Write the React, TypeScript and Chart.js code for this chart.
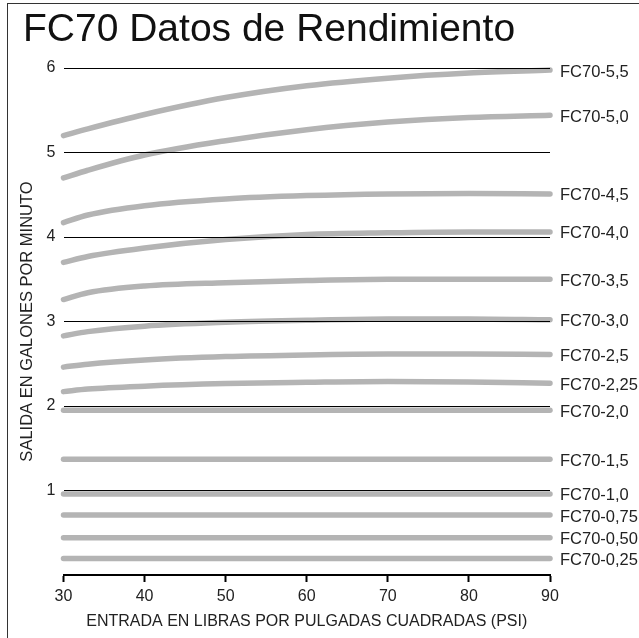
import React, { useEffect, useRef } from 'react';
import { Chart, registerables } from 'chart.js';

Chart.register(...registerables);

const TITLE = 'FC70 Datos de Rendimiento';
const X_TITLE = 'ENTRADA EN LIBRAS POR PULGADAS CUADRADAS (PSI)';
const Y_TITLE = 'SALIDA EN GALONES POR MINUTO';

const psiCurve = [30, 33, 40, 50, 60, 70, 80, 90];
const psiFlat = [30, 90];

const fc55 = [5.2, 5.28, 5.45, 5.65, 5.79, 5.88, 5.94, 5.975];
const fc50 = [4.7, 4.79, 4.97, 5.14, 5.27, 5.36, 5.415, 5.44];
const fc45 = [4.17, 4.26, 4.37, 4.45, 4.49, 4.51, 4.515, 4.51];
const fc40 = [3.7, 3.77, 3.87, 3.97, 4.03, 4.05, 4.06, 4.06];
const fc35 = [3.26, 3.34, 3.42, 3.46, 3.485, 3.5, 3.5, 3.5];
const fc30 = [2.83, 2.88, 2.945, 2.99, 3.015, 3.03, 3.03, 3.02];
const fc25 = [2.46, 2.495, 2.545, 2.585, 2.605, 2.615, 2.615, 2.61];
const fc225 = [2.17, 2.2, 2.235, 2.265, 2.28, 2.29, 2.285, 2.27];
const fc20 = [1.95, 1.95];
const fc15 = [1.37, 1.37];
const fc10 = [0.96, 0.96];
const fc075 = [0.71, 0.71];
const fc050 = [0.44, 0.44];
const fc025 = [0.195, 0.195];

const seriesNames = [
  'FC70-5,5', 'FC70-5,0', 'FC70-4,5', 'FC70-4,0', 'FC70-3,5', 'FC70-3,0', 'FC70-2,5',
  'FC70-2,25', 'FC70-2,0', 'FC70-1,5', 'FC70-1,0', 'FC70-0,75', 'FC70-0,50', 'FC70-0,25',
];
const seriesValues = [fc55, fc50, fc45, fc40, fc35, fc30, fc25, fc225, fc20, fc15, fc10, fc075, fc050, fc025];

const xTicks = [30, 40, 50, 60, 70, 80, 90];
const yTicks = [1, 2, 3, 4, 5, 6];

const FONT = '"Liberation Sans", Arial, Helvetica, sans-serif';

export default function App() {
  const ref = useRef<HTMLCanvasElement | null>(null);

  useEffect(() => {
    if (!ref.current) return;

    const datasets = seriesValues.map((vals, i) => {
      const xs = vals.length === psiFlat.length ? psiFlat : psiCurve;
      return {
        label: seriesNames[i],
        data: vals.map((v, j) => ({ x: xs[j], y: v })),
        borderColor: '#b4b4b4',
        backgroundColor: '#b4b4b4',
        borderWidth: 5.5,
        borderCapStyle: 'round' as const,
        borderJoinStyle: 'round' as const,
        pointRadius: 0,
        pointHoverRadius: 0,
        cubicInterpolationMode: 'monotone' as const,
        clip: false as const,
        fill: false,
      };
    });

    const decor = {
      id: 'decor',
      afterDatasetsDraw(chart: any) {
        const ctx = chart.ctx;
        ctx.save();
        ctx.font = `16.5px ${FONT}`;
        ctx.fillStyle = '#222';
        ctx.textAlign = 'left';
        ctx.textBaseline = 'middle';
        chart.data.datasets.forEach((ds: any, i: number) => {
          const meta = chart.getDatasetMeta(i);
          const last = meta.data[meta.data.length - 1];
          ctx.fillText(ds.label, last.x + 10, last.y + 2);
        });
        ctx.restore();
      },
      afterDraw(chart: any) {
        const ctx = chart.ctx;
        ctx.save();
        ctx.font = `39px ${FONT}`;
        ctx.fillStyle = '#111';
        ctx.textAlign = 'left';
        ctx.textBaseline = 'alphabetic';
        ctx.fillText(TITLE, 23, 41);
        ctx.strokeStyle = '#333';
        ctx.lineWidth = 1;
        ctx.strokeRect(7.5, 3.5, 640, 640);
        ctx.restore();
      },
    };

    const chart = new Chart(ref.current, {
      type: 'line',
      data: { datasets },
      options: {
        animation: false,
        responsive: false,
        events: [],
        layout: { padding: { top: 68, right: 89, left: 0, bottom: 0 } },
        plugins: {
          legend: { display: false },
          tooltip: { enabled: false },
          title: { display: false },
        },
        scales: {
          x: {
            type: 'linear',
            min: 30,
            max: 90,
            afterFit: (scale: any) => { scale.height = 63; },
            afterBuildTicks: (scale: any) => { scale.ticks = xTicks.map((v) => ({ value: v })); },
            ticks: {
              color: '#222',
              font: { family: FONT, size: 16 },
              padding: 5,
            },
            grid: {
              display: true,
              drawOnChartArea: false,
              drawTicks: true,
              tickLength: 7,
              tickWidth: 2,
              tickColor: '#000',
            },
            border: { display: true, color: '#000', width: 2 },
            title: {
              display: true,
              text: X_TITLE,
              color: '#222',
              font: { family: FONT, size: 16 },
              padding: { top: 0, bottom: 7 },
            },
          },
          y: {
            type: 'linear',
            min: 0,
            max: 6,
            afterFit: (scale: any) => { scale.width = 63.5; },
            afterBuildTicks: (scale: any) => { scale.ticks = yTicks.map((v) => ({ value: v })); },
            ticks: {
              color: '#222',
              font: { family: FONT, size: 16 },
              padding: 8,
            },
            grid: {
              display: true,
              drawOnChartArea: true,
              drawTicks: false,
              color: '#000',
              lineWidth: 1,
              z: 1,
            },
            border: { display: false },
            title: {
              display: true,
              text: Y_TITLE,
              color: '#222',
              font: { family: FONT, size: 16.5 },
              padding: { top: 18, bottom: 0 },
            },
          },
        },
      },
      plugins: [decor],
    });

    return () => chart.destroy();
  }, []);

  return (
    <div style={{ position: 'absolute', left: 0, top: 0, width: 639, height: 638, background: '#fff' }}>
      <canvas ref={ref} width={639} height={638} style={{ display: 'block', width: 639, height: 638 }} />
    </div>
  );
}
